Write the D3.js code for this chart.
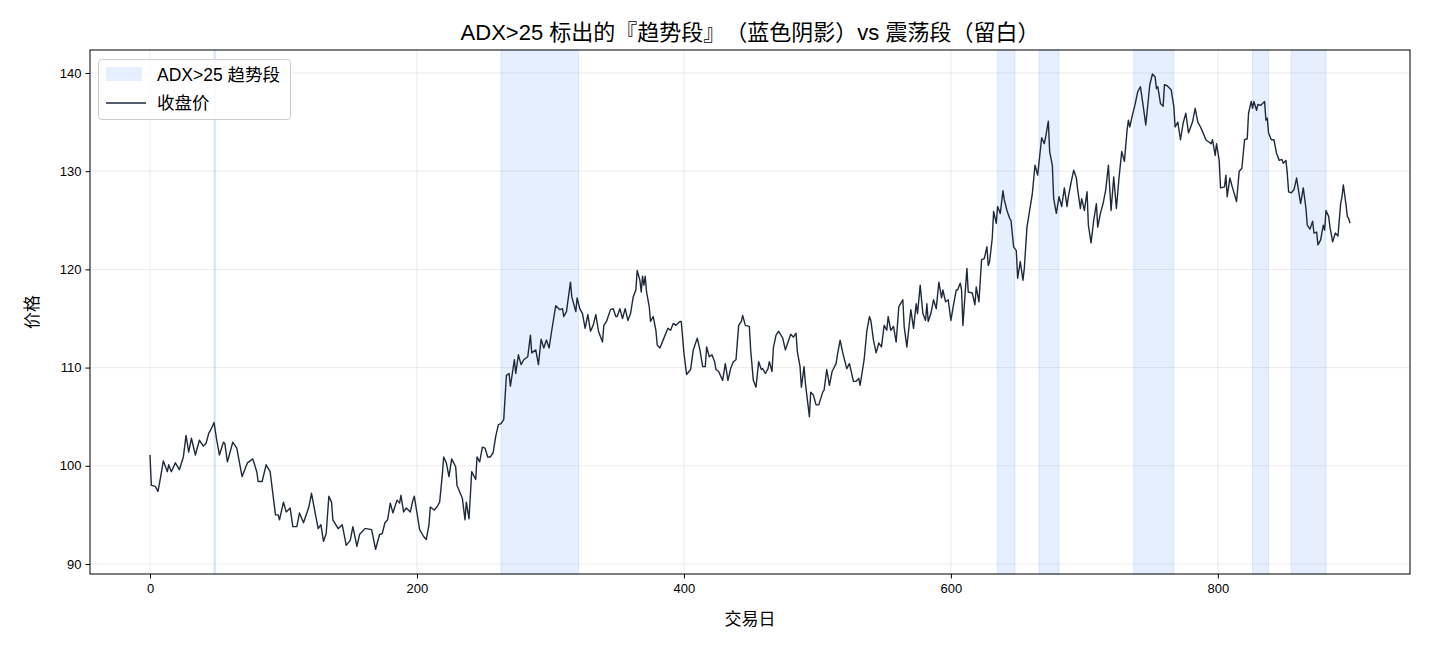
<!DOCTYPE html>
<html><head><meta charset="utf-8">
<script src="https://cdn.jsdelivr.net/npm/d3@7"></script>
<style>
body{margin:0;background:#fff;}
svg text{font-family:"Liberation Sans","Noto Sans CJK SC",sans-serif;text-spacing-trim:space-all;}
</style></head>
<body><svg id="c" width="1430" height="650"></svg>
<script>
const title = "ADX>25 标出的『趋势段』（蓝色阴影）vs 震荡段（留白）";
const xLabel = "交易日";
const yLabel = "价格";
const legendLabels = ["ADX>25 趋势段", "收盘价"];
const xTicks = [0, 200, 400, 600, 800];
const yTicks = [90, 100, 110, 120, 130, 140];
const trendSpans = [[48,49],[263,321],[635,648],[666,681],[737,767],[826,838],[855,881]];
const days = [0,1,4,6,8,10,13,14,16,19,22,25,27,29,31,34,37,40,42,44,46,48,50,52,55,56,58,62,65,69,73,77,80,81,
84,87,90,94,96,97,100,102,105,107,110,112,115,119,121,124,126,128,130,132,134,136,137,141,144,147,150,152,155,157,161,
162,166,169,172,174,176,178,180,182,185,187,188,190,192,195,197,198,200,202,205,207,209,210,213,215,217,219,220,222,224,226,229,230,234,236,237,239,241,244,245,247,
249,251,253,255,257,259,261,263,265,267,269,270,272,273,274,276,278,280,283,285,286,289,291,293,295,297,299,301,303,304,307,309,310,312,314,315,316,319,320,322,324,326,328,
330,332,334,336,339,340,342,345,347,349,350,352,354,356,358,360,362,364,365,367,368,369,370,371,372,374,375,377,379,380,382,385,388,390,392,394,397,398,400,402,405,
407,410,412,414,416,417,419,421,423,424,426,429,431,433,435,437,439,441,443,444,446,449,450,452,454,456,458,459,461,463,464,466,467,469,471,474,476,478,480,482,484,485,487,488,490,491,
494,495,497,499,501,504,505,507,509,511,514,515,517,519,522,524,525,527,529,531,532,535,537,539,540,542,544,546,548,550,552,553,555,557,559,561,564,565,567,
570,572,574,575,577,579,581,582,583,585,587,589,591,593,594,596,598,600,602,604,605,607,608,609,612,613,616,618,619,621,623,625,627,628,629,631,632,634,635,637,639,640,642,644,645,647,649,650,652,654,655,
657,659,661,663,665,668,670,671,673,674,676,677,679,681,683,685,687,688,690,692,694,695,697,698,700,702,703,705,707,709,710,712,714,716,718,720,722,724,726,728,730,732,733,734,736,738,
740,742,744,746,748,749,751,753,754,755,757,759,760,762,765,767,768,770,772,774,776,778,781,783,785,787,789,791,793,795,796,798,799,801,802,805,806,807,809,811,813,814,816,818,
820,822,823,825,826,827,829,830,832,835,836,837,838,840,842,843,844,846,848,849,851,852,853,855,857,859,860,862,864,866,867,869,871,872,874,875,877,879,880,881,883,884,886,888,890,892,893,894,896,897,898,899];
const closes = [101.1,98.0,97.9,97.4,98.9,100.5,99.4,100.1,99.4,100.3,99.6,100.9,103.1,101.4,102.8,101.1,102.6,102.0,102.3,103.3,103.8,104.4,102.6,101.1,102.4,102.3,100.4,102.4,101.8,98.9,100.3,100.7,99.4,98.4,
98.4,100.1,99.4,95.0,95.0,94.5,96.3,95.3,95.7,93.8,93.8,95.2,94.2,95.8,97.2,95.0,93.6,94.0,92.3,93.1,96.9,96.3,94.5,93.6,94.0,91.9,92.4,93.8,91.8,93.0,93.6,
93.6,93.5,91.5,93.0,93.1,94.2,94.5,96.2,95.2,96.5,96.2,97.0,95.3,95.7,95.3,96.5,96.9,95.2,93.5,92.8,92.5,94.0,95.8,95.5,95.8,96.3,99.1,100.9,100.3,98.9,100.7,99.9,98.0,96.7,94.5,96.3,94.6,99.4,98.6,100.9,100.4,
101.9,101.8,100.9,100.9,101.3,103.0,104.2,104.3,104.7,109.2,109.4,108.1,109.9,110.8,109.4,111.3,110.3,110.8,111.1,113.3,111.5,111.8,110.3,112.9,112.0,112.8,112.0,113.8,115.5,116.3,115.9,116.0,115.2,115.7,117.7,118.7,117.2,115.7,117.1,116.0,115.5,114.0,115.4,
113.7,114.3,115.4,113.7,112.6,114.3,114.7,115.9,116.0,115.2,115.2,116.0,115.0,116.0,114.8,115.5,117.2,117.9,119.9,118.9,117.7,119.3,118.4,119.3,117.7,116.2,114.7,115.2,113.8,112.3,112.0,113.0,114.0,113.8,114.5,114.3,114.7,114.7,111.5,109.3,109.8,
111.8,113.0,111.8,110.1,110.1,112.1,111.1,111.3,110.6,109.8,109.6,108.7,110.4,108.7,109.9,110.6,110.8,114.3,114.7,115.3,114.3,114.2,111.8,108.7,108.0,110.6,109.8,109.9,109.4,109.9,110.6,109.6,112.0,113.3,113.7,113.0,111.8,112.6,113.4,113.1,113.5,111.6,110.1,108.0,110.1,108.4,
105.0,107.5,107.2,106.2,106.2,107.5,107.7,109.8,108.2,109.6,110.4,111.3,112.8,111.5,109.9,110.4,109.8,108.6,108.6,108.9,108.2,110.8,113.7,115.2,114.8,112.8,111.5,112.5,112.1,114.3,113.8,115.2,113.8,114.2,112.6,116.2,116.9,114.2,112.1,
115.9,114.0,116.5,115.5,118.4,115.5,114.8,116.5,114.7,115.5,116.9,116.0,118.7,117.1,117.9,116.7,116.9,114.8,116.4,117.9,117.9,118.6,117.9,114.3,120.1,117.7,117.6,116.4,118.2,116.7,121.0,121.1,122.3,120.4,120.8,123.2,125.9,124.7,126.4,125.7,128.0,127.1,126.0,125.2,125.0,122.3,121.9,119.1,120.8,118.9,120.1,
124.3,126.0,127.7,130.6,129.6,133.4,132.8,133.5,135.1,132.0,130.6,127.2,125.7,127.4,126.4,128.3,126.4,127.4,128.8,130.1,129.3,128.1,126.2,127.2,126.0,127.9,124.5,122.7,125.0,126.7,124.3,125.7,126.7,128.1,130.6,126.0,129.4,126.2,129.4,132.0,131.0,134.2,135.2,134.5,135.7,136.8,
138.1,138.6,136.7,134.7,137.4,138.8,139.9,139.6,138.4,138.6,136.9,136.6,138.8,138.7,138.3,136.6,134.5,135.0,133.2,134.9,135.9,133.9,135.0,136.4,135.0,134.5,133.9,133.2,133.0,132.8,133.2,131.6,132.8,131.1,128.3,128.4,129.6,127.4,129.3,128.3,127.4,126.9,130.0,130.3,
133.2,133.3,135.9,137.1,136.4,137.1,136.2,136.8,136.7,137.1,135.2,135.4,133.9,133.2,133.2,132.5,131.8,131.1,131.2,130.8,131.1,129.8,127.9,127.8,128.1,129.3,128.4,126.7,128.3,126.2,124.5,124.1,124.9,123.7,123.8,122.5,123.0,124.5,124.0,126.0,125.4,124.3,122.8,123.7,123.4,126.7,127.4,128.6,126.6,125.4,125.2,124.7];

const svg = d3.select("#c");
const L = 90, R = 1410, T = 50, B = 574;
const x = d3.scaleLinear().domain([-44.95, 943.95]).range([L, R]);
const y = d3.scaleLinear().domain([88.98, 142.34]).range([B, T]);

// grid
const g = svg.append("g");
g.selectAll(".gx").data(xTicks).enter().append("line")
  .attr("x1", d => x(d)).attr("x2", d => x(d)).attr("y1", T).attr("y2", B)
  .attr("stroke", "#b0b0b0").attr("stroke-opacity", 0.3).attr("stroke-width", 0.8);
g.selectAll(".gy").data(yTicks).enter().append("line")
  .attr("y1", d => y(d)).attr("y2", d => y(d)).attr("x1", L).attr("x2", R)
  .attr("stroke", "#b0b0b0").attr("stroke-opacity", 0.3).attr("stroke-width", 0.8);

// spans
svg.append("g").selectAll("rect").data(trendSpans).enter().append("rect")
  .attr("x", d => x(d[0])).attr("width", d => Math.max(1, x(d[1]) - x(d[0])))
  .attr("y", T).attr("height", B - T)
  .attr("fill", "#3b82f6").attr("fill-opacity", 0.13)
  .attr("stroke", "#3b82f6").attr("stroke-opacity", 0.15).attr("stroke-width", 1);

// line
const pts = days.map((d, i) => [d, closes[i]]);
svg.append("path").datum(pts)
  .attr("d", d3.line().x(d => x(d[0])).y(d => y(d[1])))
  .attr("fill", "none").attr("stroke", "#1e293b").attr("stroke-width", 1.4).attr("stroke-linejoin", "round");

// frame
svg.append("rect").attr("x", L).attr("y", T).attr("width", R - L).attr("height", B - T)
  .attr("fill", "none").attr("stroke", "#000").attr("stroke-width", 1);

// axes
const xa = svg.append("g").attr("transform", `translate(0,${B})`)
  .call(d3.axisBottom(x).tickValues(xTicks).tickSize(4.5).tickPadding(5).tickFormat(d3.format("d")));
const ya = svg.append("g").attr("transform", `translate(${L},0)`)
  .call(d3.axisLeft(y).tickValues(yTicks).tickSize(4.5).tickPadding(4).tickFormat(d3.format("d")));
[xa, ya].forEach(a => {
  a.select(".domain").remove();
  a.selectAll("text").attr("font-size", 13).attr("fill", "#000")
    .style("font-family", '"Liberation Sans","Noto Sans CJK SC",sans-serif');
  a.selectAll("line").attr("stroke", "#000");
});

// title & labels
svg.append("text").attr("x", (L + R) / 2).attr("y", 40).attr("text-anchor", "middle")
  .attr("font-size", 22).attr("fill", "#000").text(title);
svg.append("text").attr("x", (L + R) / 2).attr("y", 625).attr("text-anchor", "middle")
  .attr("font-size", 17).attr("fill", "#000").text(xLabel);
svg.append("text").attr("transform", `translate(38,${(T + B) / 2}) rotate(-90)`).attr("text-anchor", "middle")
  .attr("font-size", 17).attr("fill", "#000").text(yLabel);

// legend
const lg = svg.append("g");
lg.append("rect").attr("x", 98.5).attr("y", 59.5).attr("width", 192).attr("height", 60).attr("rx", 3)
  .attr("fill", "#fff").attr("fill-opacity", 0.8).attr("stroke", "#cccccc");
lg.append("rect").attr("x", 106).attr("y", 67).attr("width", 36).attr("height", 14)
  .attr("fill", "#3b82f6").attr("fill-opacity", 0.13);
lg.append("line").attr("x1", 106).attr("x2", 146).attr("y1", 103).attr("y2", 103)
  .attr("stroke", "#1e293b").attr("stroke-width", 1.6);
lg.append("text").attr("x", 157).attr("y", 80.5).attr("font-size", 17.5).attr("fill", "#000").text(legendLabels[0]);
lg.append("text").attr("x", 157).attr("y", 108.5).attr("font-size", 17.5).attr("fill", "#000").text(legendLabels[1]);
</script></body></html>
